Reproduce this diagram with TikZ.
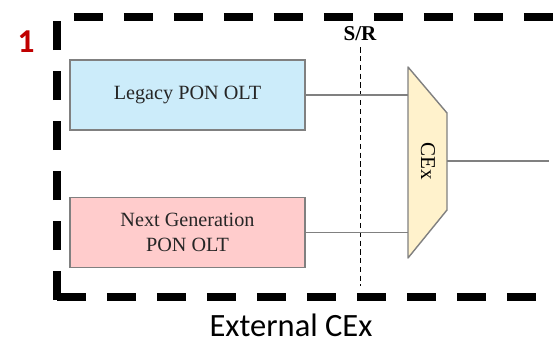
\documentclass[tikz,border=0pt]{standalone}
\usepackage{fontspec}
\setmainfont{Liberation Serif}
\newfontfamily\calibri{Carlito}
\usetikzlibrary{positioning,calc}
\definecolor{legacyColor}{RGB}{204,236,250}
\definecolor{ngColor}{RGB}{255,204,204}
\definecolor{cexColor}{RGB}{255,242,204}
\definecolor{edgeColor}{RGB}{128,128,128}
\definecolor{numColor}{RGB}{192,0,0}
\tikzset{
	olt/.style={draw=edgeColor, line width=0.8pt, minimum width=4.7cm, minimum height=1.4cm, inner sep=0, font=\rmfamily\fontsize{11.5}{14}\selectfont, text=black!85, align=center},
	wire/.style={draw=edgeColor, line width=0.8pt}
}

\begin{document}
\begin{tikzpicture}[x=0.02cm, y=-0.02cm]
				\useasboundingbox (0,0) rectangle (553,344);
				% outer dashed frame
				\draw[line width=4.5pt, dash pattern=on 0.58cm off 0.42cm] (57,300) -- (57,17) -- (570,17);
				\draw[line width=4.5pt, dash pattern=on 0.58cm off 0.42cm] (57,297) -- (570,297);
				\node[font=\calibri\bfseries\fontsize{19}{22}\selectfont, text=numColor] (num) at (26,42) {1};
				\node[font=\calibri\fontsize{18.5}{21}\selectfont] (title) at (291,325) {External CEx};
				% OLT boxes
				\node[olt, fill=legacyColor] (legacy) at (187.5,95) {Legacy PON OLT};
				\node[olt, fill=ngColor] (nextgen) at (187.5,232.5) {Next Generation\\PON OLT};
				% S/R reference point
				\node[font=\rmfamily\bfseries\fontsize{12}{14}\selectfont] (sr) at (360,34) {S/R};
				\coordinate (srbot) at (360,286);
				\draw[densely dashed, line width=0.5pt] (sr.south) -- (srbot);
				% CEx trapezoid
				\coordinate (cexTL) at (408,67);
				\coordinate (cexTR) at (447,113);
				\coordinate (cexBR) at (447,210);
				\coordinate (cexBL) at (408,258);
				\draw[wire, fill=cexColor, line join=round] (cexTL) -- (cexTR) -- (cexBR) -- (cexBL) -- cycle;
				\node[rotate=-90, font=\rmfamily\fontsize{12}{14}\selectfont] (cex) at (428,161) {CEx};
				\coordinate (out) at (549,161);
				% connections
				\path[wire] (legacy.east) -- (legacy.east -| cexTL);
				\path[wire] (nextgen.east) -- (nextgen.east -| cexTL);
				\path[wire] (cexTR |- cex) -- (out);
			\end{tikzpicture}
\end{document}
